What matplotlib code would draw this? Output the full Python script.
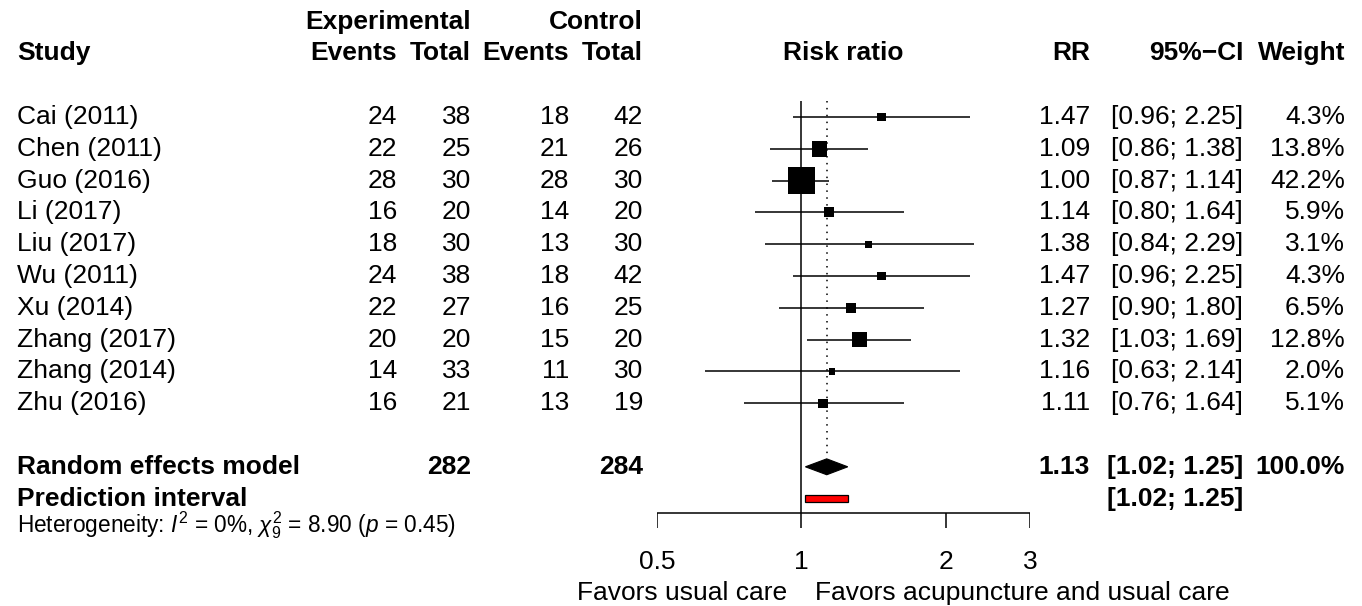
import numpy as np
import matplotlib
matplotlib.use("Agg")
import matplotlib.pyplot as plt
from matplotlib import transforms
from matplotlib.patches import Polygon, Rectangle

plt.rcParams["font.family"] = ["Liberation Sans", "DejaVu Sans"]
plt.rcParams["mathtext.fontset"] = "custom"
plt.rcParams["mathtext.rm"] = "Liberation Sans"
plt.rcParams["mathtext.it"] = "Liberation Sans:italic"
plt.rcParams["mathtext.bf"] = "Liberation Sans:bold"

# study data
studies = ["Cai (2011)", "Chen (2011)", "Guo (2016)", "Li (2017)", "Liu (2017)",
           "Wu (2011)", "Xu (2014)", "Zhang (2017)", "Zhang (2014)", "Zhu (2016)"]
ev_exp = [24, 22, 28, 16, 18, 24, 22, 20, 14, 16]
n_exp = [38, 25, 30, 20, 30, 38, 27, 20, 33, 21]
ev_ctrl = [18, 21, 28, 14, 13, 18, 16, 15, 11, 13]
n_ctrl = [42, 26, 30, 20, 30, 42, 25, 20, 30, 19]
rr = [1.47, 1.09, 1.00, 1.14, 1.38, 1.47, 1.27, 1.32, 1.16, 1.11]
ci_low = [0.96, 0.86, 0.87, 0.80, 0.84, 0.96, 0.90, 1.03, 0.63, 0.76]
ci_high = [2.25, 1.38, 1.14, 1.64, 2.29, 2.25, 1.80, 1.69, 2.14, 1.64]
weight = [4.3, 13.8, 42.2, 5.9, 3.1, 4.3, 6.5, 12.8, 2.0, 5.1]

# pooled results
pooled_rr = 1.13
pooled_ci = (1.02, 1.25)
pred_int = (1.02, 1.25)
total_exp = 282
total_ctrl = 284
het_text = r"Heterogeneity: $I^2$ = 0%, $\chi^2_9$ = 8.90 ($p$ = 0.45)"

x_ticks = [0.5, 1, 2, 3]
x_ticklabels = ["0.5", "1", "2", "3"]
left_label = "Favors usual care"
right_label = "Favors acupuncture and usual care"

W, H = 1362, 606
ROW0, ROWH = 117, 31.8  # pixel y of first study row, row height

fig = plt.figure(figsize=(W / 100, H / 100), dpi=100)
ax = fig.add_axes([657 / W, 0, (1030 - 657) / W, 1])
ax.set_xscale("log")
ax.set_xlim(0.5, 3)
ax.set_ylim((H - ROW0) / ROWH, -ROW0 / ROWH)
ax.axis("off")

FS = 19
tr = transforms.blended_transform_factory(fig.transFigure, ax.transData)


def put(px, row, s, ha="right", bold=False, fs=FS):
    ax.text(px / W, row, s, transform=tr, ha=ha, va="center", fontsize=fs,
            fontweight="bold" if bold else "normal", clip_on=False)


# headers
put(471, -3, "Experimental", bold=True)
put(643, -3, "Control", bold=True)
put(17, -2, "Study", ha="left", bold=True)
for px, s in [(397, "Events"), (471, "Total"), (569, "Events"), (643, "Total"),
              (1090, "RR"), (1243, "95%\u2212CI"), (1345, "Weight")]:
    put(px, -2, s, bold=True)
ax.text(np.sqrt(0.5 * 3), -2, "Risk ratio", ha="center", va="center",
        fontsize=FS, fontweight="bold", clip_on=False)

# study rows
for i, name in enumerate(studies):
    put(17, i, name, ha="left")
    put(397, i, str(ev_exp[i]))
    put(471, i, str(n_exp[i]))
    put(569, i, str(ev_ctrl[i]))
    put(643, i, str(n_ctrl[i]))
    put(1090, i, f"{rr[i]:.2f}")
    put(1243, i, f"[{ci_low[i]:.2f}; {ci_high[i]:.2f}]")
    put(1345, i, f"{weight[i]:.1f}%")

rows = np.arange(len(studies))
ax.hlines(rows, ci_low, ci_high, color="black", lw=1.1, zorder=2)
side_px = np.maximum(27 * np.sqrt(np.array(weight) / max(weight)), 6.5)
ax.scatter(rr, rows, marker="s", s=(side_px * 0.72) ** 2, color="black",
           linewidths=0, zorder=3)

# pooled rows
re_row, pi_row = len(studies) + 1, len(studies) + 2
put(17, re_row, "Random effects model", ha="left", bold=True)
put(471, re_row, str(total_exp), bold=True)
put(643, re_row, str(total_ctrl), bold=True)
put(1090, re_row, f"{pooled_rr:.2f}", bold=True)
put(1243, re_row, f"[{pooled_ci[0]:.2f}; {pooled_ci[1]:.2f}]", bold=True)
put(1345, re_row, "100.0%", bold=True)
put(17, pi_row, "Prediction interval", ha="left", bold=True)
put(1243, pi_row, f"[{pred_int[0]:.2f}; {pred_int[1]:.2f}]", bold=True)
put(17, 12.83, het_text, ha="left", fs=16.3)

dh = 0.25
ax.add_patch(Polygon([(pooled_ci[0], re_row), (pooled_rr, re_row - dh),
                      (pooled_ci[1], re_row), (pooled_rr, re_row + dh)],
                     closed=True, facecolor="black", edgecolor="black", lw=0.8))
ax.add_patch(Rectangle((pred_int[0], pi_row - 0.1), pred_int[1] - pred_int[0], 0.2,
                       facecolor="red", edgecolor="black", lw=0.9))

# reference lines
ax.vlines(1, -0.5, 12.45, color="black", lw=1.1)
ax.vlines(pooled_rr, -0.5, re_row - 0.38, color="black", lw=1.1,
          linestyles=(0, (1, 3.5)))

# x axis
ax.hlines(12.45, x_ticks[0], x_ticks[-1], color="black", lw=1.1)
ax.vlines(x_ticks, 12.45, 12.92, color="black", lw=1.1)
for t, lab in zip(x_ticks, x_ticklabels):
    ax.text(t, 13.99, lab, ha="center", va="center", fontsize=FS, clip_on=False)
put(787, 14.97, left_label, ha="right")
put(815, 14.97, right_label, ha="left")

fig.savefig("out.png", dpi=100)
